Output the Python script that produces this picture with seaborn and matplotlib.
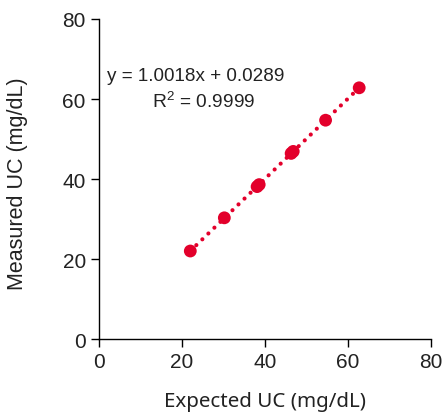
import matplotlib
import matplotlib.pyplot as plt
import numpy as np
import pandas as pd
import seaborn as sns

matplotlib.use("Agg")

EXPECTED = [22.0, 30.2, 38.1, 38.6, 46.3, 46.8, 54.6, 62.7]
MEASURED = [22.0, 30.3, 38.1, 38.6, 46.4, 46.9, 54.7, 62.8]
EQUATION = "y = 1.0018x + 0.0289"
R_SQUARED = "R$^2$ = 0.9999"

RED = "#E3002B"
INK = "#222222"

sns.set_theme(style="ticks")
plt.rcParams["font.family"] = ["Liberation Sans", "DejaVu Sans"]
plt.rcParams["mathtext.fontset"] = "custom"
plt.rcParams["mathtext.rm"] = "Liberation Sans"

df = pd.DataFrame({"expected": EXPECTED, "measured": MEASURED})

fig = plt.figure(figsize=(4.45, 4.14), dpi=100)
ax = fig.add_axes([0.2225, 0.1787, 0.746, 0.773])

slope, intercept = np.polyfit(df["expected"], df["measured"], 1)
line_x = np.array([df["expected"].min(), df["expected"].max()])
ax.plot(line_x, slope * line_x + intercept, color=RED, lw=3.0,
        linestyle=(0, (0.01, 2.0)), dash_capstyle="round", zorder=2)

sns.scatterplot(data=df, x="expected", y="measured", ax=ax, color=RED,
                s=85, edgecolor="none", zorder=3)

ax.text(23.4, 65.9, EQUATION, ha="center", va="center", fontsize=13.6, color=INK)
ax.text(25.3, 59.6, R_SQUARED, ha="center", va="center", fontsize=13.8, color=INK)

ax.set_xlim(0, 80)
ax.set_ylim(0, 80)
ax.set_xticks([0, 20, 40, 60, 80])
ax.set_yticks([0, 20, 40, 60, 80])
ax.tick_params(labelsize=15, length=6, width=1, color="black", labelcolor=INK)
ax.set_xlabel("Expected UC (mg/dL)", fontsize=14.8, labelpad=14, color=INK,
              family=["Noto Sans", "DejaVu Sans"])
ax.set_ylabel("Measured UC (mg/dL)", fontsize=15.5, color=INK)
ax.yaxis.set_label_coords(-0.215, 0.49)
sns.despine(ax=ax)
for side in ("left", "bottom"):
    ax.spines[side].set_color("black")
    ax.spines[side].set_linewidth(1)

fig.savefig("out.png", dpi=100)
